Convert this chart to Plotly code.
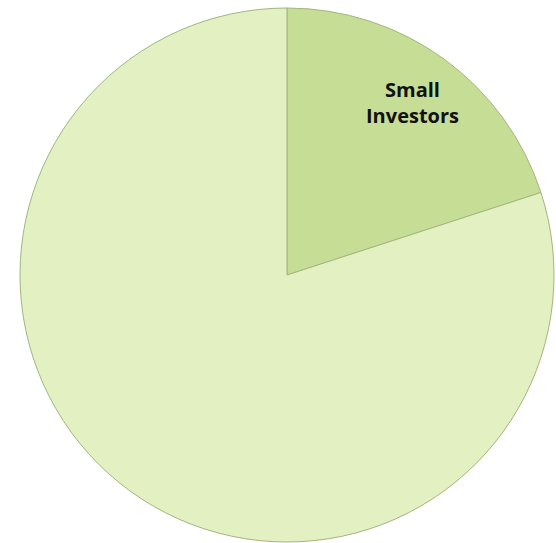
import math
import plotly.graph_objects as go

categories = ["Small Investors", "Other Investors"]
values = [20, 80]
slice_text = ["Small<br>Investors", ""]
colors = ["#c6dd96", "#e3f0c2"]

W, H = 556, 543
cx, cy, r = 287, 275, 267

dom_x = [(cx - r) / W, (cx + r) / W]
dom_y = [(H - cy - r) / H, (H - cy + r) / H]

fig = go.Figure(go.Pie(
    labels=categories,
    values=values,
    textinfo="none",
    sort=False,
    direction="clockwise",
    rotation=0,
    marker=dict(colors=colors, line=dict(color="#a3b57f", width=1)),
    showlegend=False,
    hoverinfo="label+percent",
    domain=dict(x=dom_x, y=dom_y),
))

# label placed along the slice's mid-angle, derived from the data
total = sum(values)
mid = 2 * math.pi * (values[0] / 2) / total
lab_r = 0.80 * r
lx = (cx + lab_r * math.sin(mid)) / W
ly = (H - cy + lab_r * math.cos(mid)) / H
fig.add_annotation(
    x=lx, y=ly, xref="paper", yref="paper",
    text=slice_text[0], showarrow=False,
    font=dict(family="Open Sans", size=20, color="#111111", weight="bold"),
    xanchor="center", yanchor="middle",
)

fig.update_layout(
    width=W, height=H,
    margin=dict(l=0, r=0, t=0, b=0),
    paper_bgcolor="white",
    plot_bgcolor="white",
)

fig.write_html(
    "out.html",
    config={"displayModeBar": False},
    post_script="document.body.style.margin='0';document.body.style.overflow='hidden';",
)
